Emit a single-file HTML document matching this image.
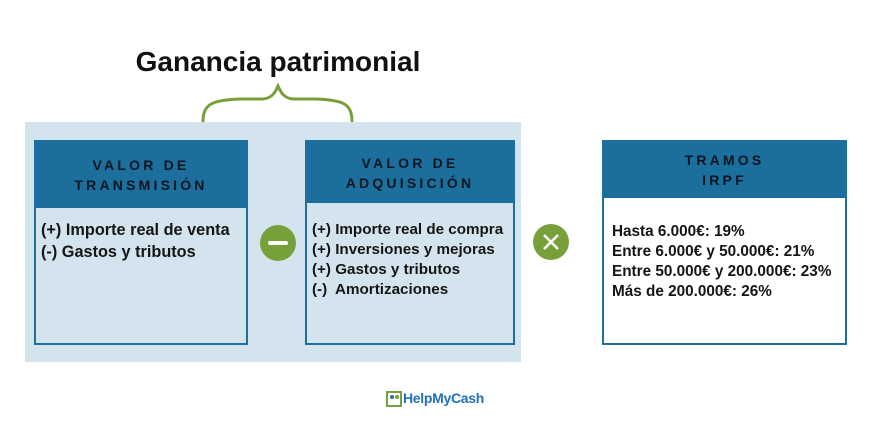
<!DOCTYPE html>
<html><head><meta charset="utf-8"><style>
body{margin:0;width:888px;height:428px;background:#fff;position:relative;overflow:hidden;font-family:"Liberation Sans",sans-serif;color:#111}
.a{position:absolute}
.box{position:absolute;border:2px solid #1f6f9c;box-sizing:border-box;background:#d3e4ee}
.hd{background:#1c6e9d;color:#0b1620;font-weight:bold;font-size:14px;letter-spacing:3.2px;text-align:center;line-height:20px;box-sizing:border-box}
.tx{font-weight:bold;line-height:20px;color:#151515;white-space:nowrap}
</style></head><body>
<div class="a" style="left:110px;top:46px;width:336px;text-align:center;font-weight:bold;font-size:28px;">Ganancia patrimonial</div>
<svg class="a" style="left:0;top:0" width="888" height="428">
<path d="M203,122 C203,104 212,100 240,99 L263,99 C272,98 275,93 278,86 C281,93 284,98 293,99 L316,99 C344,100 352,104 352,122" fill="none" stroke="#78a03a" stroke-width="3"/>
</svg>
<div class="a" style="left:25px;top:122px;width:496px;height:240px;background:#d3e4ee"></div>
<div class="box" style="left:34px;top:140px;width:214px;height:205px">
<div class="hd" style="height:66px;padding-top:13px">VALOR DE<br>TRANSMISIÓN</div>
<div class="tx" style="padding:11px 0 0 5px;font-size:16.3px;line-height:22px">(+) Importe real de venta<br>(-) Gastos y tributos</div>
</div>
<div class="box" style="left:305px;top:140px;width:210px;height:205px">
<div class="hd" style="height:61px;padding-top:11px">VALOR DE<br>ADQUISICIÓN</div>
<div class="tx" style="padding:17px 0 0 5px;font-size:15.2px">(+) Importe real de compra<br>(+) Inversiones y mejoras<br>(+) Gastos y tributos<br>(-)&nbsp; Amortizaciones</div>
</div>
<div class="box" style="left:602px;top:140px;width:245px;height:205px;background:#fff">
<div class="hd" style="height:56px;padding-top:8px">TRAMOS<br>IRPF</div>
<div class="tx" style="padding:24px 0 0 8px;font-size:15.3px">Hasta 6.000€: 19%<br>Entre 6.000€ y 50.000€: 21%<br>Entre 50.000€ y 200.000€: 23%<br>Más de 200.000€: 26%</div>
</div>
<svg class="a" style="left:0;top:0" width="888" height="428">
<circle cx="278" cy="243" r="18" fill="#77a03a"/>
<rect x="268" y="241" width="20" height="4" rx="2" fill="#fff"/>
<circle cx="551" cy="242" r="18" fill="#77a03a"/>
<path d="M544,235 L558,249 M558,235 L544,249" stroke="#fff" stroke-width="2.5"/>
<rect x="387" y="392" width="14" height="14" fill="none" stroke="#77a03a" stroke-width="2"/>
<circle cx="392" cy="397" r="2" fill="#1f6f9c"/><circle cx="397" cy="397" r="2" fill="#77a03a"/>
</svg>
<div class="a" style="left:403px;top:390px;font-weight:bold;font-size:14px;color:#1f72b8;letter-spacing:-0.3px">HelpMyCash</div>
</body></html>
